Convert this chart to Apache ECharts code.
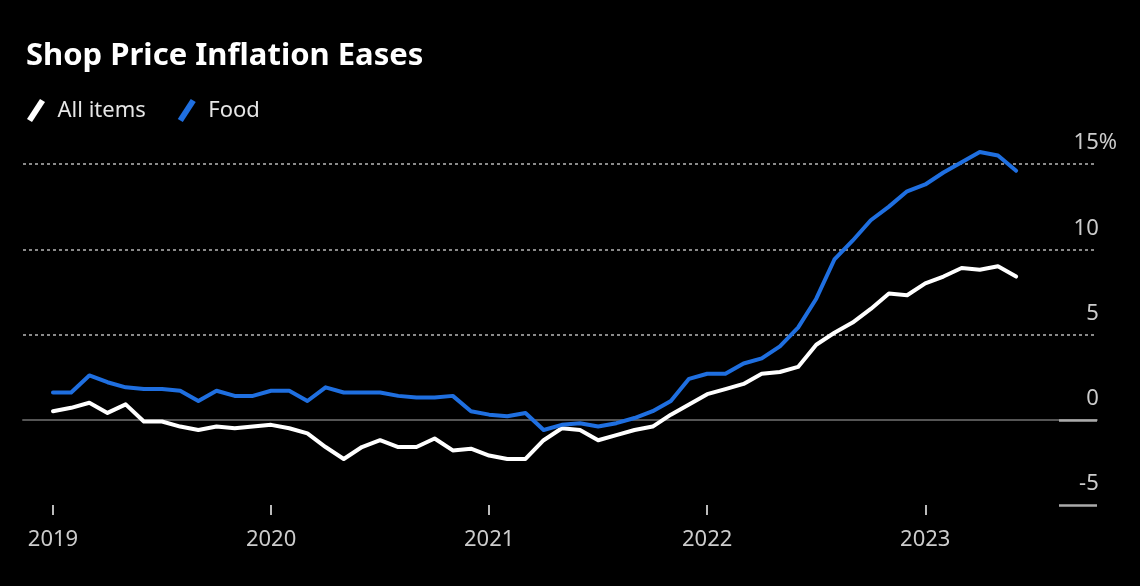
<!DOCTYPE html>
<html>
<head>
<meta charset="utf-8">
<script src="https://cdn.jsdelivr.net/npm/echarts@6/dist/echarts.min.js"></script>
<style>
  html, body { margin: 0; padding: 0; background: #000; }
  #chart { width: 1140px; height: 586px; }
</style>
</head>
<body>
<div id="chart"></div>
<script>
// Monthly, Jan 2019 – Jun 2023 (year-on-year %)
const months = [
  '2019-01','2019-02','2019-03','2019-04','2019-05','2019-06','2019-07','2019-08','2019-09','2019-10','2019-11','2019-12',
  '2020-01','2020-02','2020-03','2020-04','2020-05','2020-06','2020-07','2020-08','2020-09','2020-10','2020-11','2020-12',
  '2021-01','2021-02','2021-03','2021-04','2021-05','2021-06','2021-07','2021-08','2021-09','2021-10','2021-11','2021-12',
  '2022-01','2022-02','2022-03','2022-04','2022-05','2022-06','2022-07','2022-08','2022-09','2022-10','2022-11','2022-12',
  '2023-01','2023-02','2023-03','2023-04','2023-05','2023-06'
];
const allItems = [
  0.5, 0.7, 1.0, 0.4, 0.9, -0.1, -0.1, -0.4, -0.6, -0.4, -0.5, -0.4,
  -0.3, -0.5, -0.8, -1.6, -2.3, -1.6, -1.2, -1.6, -1.6, -1.1, -1.8, -1.7,
  -2.1, -2.3, -2.3, -1.2, -0.5, -0.6, -1.2, -0.9, -0.6, -0.4, 0.3, 0.9,
  1.5, 1.8, 2.1, 2.7, 2.8, 3.1, 4.4, 5.1, 5.7, 6.5, 7.4, 7.3,
  8.0, 8.4, 8.9, 8.8, 9.0, 8.4
];
const food = [
  1.6, 1.6, 2.6, 2.2, 1.9, 1.8, 1.8, 1.7, 1.1, 1.7, 1.4, 1.4,
  1.7, 1.7, 1.1, 1.9, 1.6, 1.6, 1.6, 1.4, 1.3, 1.3, 1.4, 0.5,
  0.3, 0.2, 0.4, -0.6, -0.3, -0.2, -0.4, -0.2, 0.1, 0.5, 1.1, 2.4,
  2.7, 2.7, 3.3, 3.6, 4.3, 5.4, 7.1, 9.4, 10.5, 11.7, 12.5, 13.4,
  13.8, 14.5, 15.1, 15.7, 15.5, 14.6
];
const yearTicks = ['2019', '2020', '2021', '2022', '2023'];
const yTicks = [-5, 0, 5, 10, 15];

// month index of each point (0 = Jan 2019)
const startYear = 2019;
const monthIndex = months.map(m => (parseInt(m.slice(0, 4)) - startYear) * 12 + parseInt(m.slice(5, 7)) - 1);
const yearIdx = yearTicks.map(y => (parseInt(y) - startYear) * 12);

const FONT = '"Noto Sans", "DejaVu Sans", sans-serif';
const WHITE = '#ffffff';
const BLUE = '#1f6fe0';
const LABEL = '#cccccc';
const slash = 'path://M0,20 L13,0 L18,3 L5,23 Z';

const chart = echarts.init(document.getElementById('chart'), null, { renderer: 'canvas' });
chart.setOption({
  backgroundColor: '#000000',
  animation: false,
  title: {
    text: 'Shop Price Inflation Eases',
    left: 21, top: 36,
    textStyle: { color: '#ffffff', fontFamily: FONT, fontWeight: 'bold', fontSize: 31 }
  },
  legend: {
    left: 22, top: 94,
    itemWidth: 19, itemHeight: 23, itemGap: 32,
    selectedMode: false,
    textStyle: { color: '#e6e6e6', fontFamily: FONT, fontSize: 22, padding: [0, 0, 0, 7] },
    data: [
      { name: 'All items', icon: slash, itemStyle: { color: WHITE } },
      { name: 'Food', icon: slash, itemStyle: { color: BLUE } }
    ]
  },
  grid: { left: 23, right: 43, top: 164, bottom: 81 },
  xAxis: [
    {
      type: 'value',
      min: -1.65, max: 57.45,
      axisLine: { show: false, onZero: false },
      splitLine: { show: false },
      axisTick: { show: true, customValues: yearIdx, length: 10, lineStyle: { color: '#bbbbbb', width: 2 } },
      axisLabel: {
        customValues: yearIdx,
        formatter: v => yearTicks[yearIdx.indexOf(Math.round(v))] || '',
        color: LABEL, fontFamily: FONT, fontSize: 22, margin: 24
      }
    },
    {
      type: 'value',
      min: -1.65, max: 57.45,
      axisLine: { show: true, onZero: true, lineStyle: { color: '#555555', width: 2 } },
      axisTick: { show: false }, axisLabel: { show: false }, splitLine: { show: false }
    }
  ],
  yAxis: [
    {
      type: 'value', position: 'right',
      min: yTicks[0], max: yTicks[yTicks.length - 1], interval: 5,
      z: 1,
      axisLine: { show: false, onZero: false },
      axisTick: { show: false },
      splitLine: {
        show: true,
        lineStyle: { color: ['rgba(0,0,0,0)', 'rgba(0,0,0,0)', '#8a8a8a', '#8a8a8a', '#8a8a8a'], width: 2, type: [3, 3] }
      },
      axisLabel: {
        inside: true, margin: -20,
        verticalAlign: 'bottom', padding: [0, 0, 10, 0],
        color: LABEL, fontFamily: FONT, fontSize: 22,
        formatter: v => v === 15 ? '{n|15}{p|%}' : '{n|' + v + '}{h|%}',
        rich: {
          n: { color: LABEL, fontFamily: FONT, fontSize: 22 },
          p: { color: LABEL, fontFamily: FONT, fontSize: 22 },
          h: { color: 'rgba(0,0,0,0)', fontFamily: FONT, fontSize: 22 }
        }
      }
    },
    {
      type: 'value', position: 'right',
      min: yTicks[0], max: yTicks[yTicks.length - 1], interval: 5,
      z: 2,
      axisLine: { show: false, onZero: false },
      axisLabel: { show: false }, splitLine: { show: false },
      axisTick: { show: true, inside: true, length: 38, customValues: [-5, 0], lineStyle: { color: '#aaaaaa', width: 2.5 } }
    }
  ],
  series: [
    {
      name: 'All items', type: 'line',
      data: monthIndex.map((x, i) => [x, allItems[i]]),
      showSymbol: false, symbol: 'none', clip: false,
      lineStyle: { color: WHITE, width: 4, join: 'round', cap: 'round' }, itemStyle: { color: WHITE },
      z: 3
    },
    {
      name: 'Food', type: 'line',
      data: monthIndex.map((x, i) => [x, food[i]]),
      showSymbol: false, symbol: 'none', clip: false,
      lineStyle: { color: BLUE, width: 4, join: 'round', cap: 'round' }, itemStyle: { color: BLUE },
      z: 4
    }
  ]
});
</script>
</body>
</html>
